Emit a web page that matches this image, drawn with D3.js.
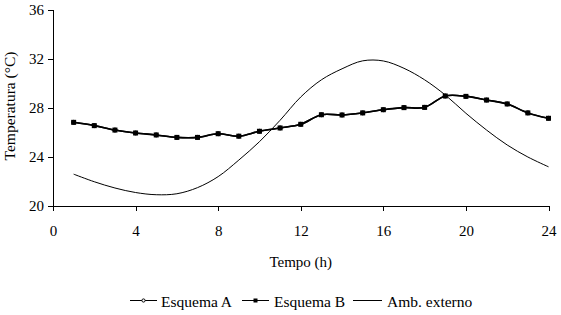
<!DOCTYPE html>
<html lang="en">
<head>
<meta charset="utf-8">
<title>Temperatura</title>
<script src="https://d3js.org/d3.v7.min.js"></script>
<style>
body { margin: 0; background: #fff; }
text { font-family: "Liberation Serif", "Times New Roman", serif; fill: #000; }
.axis path, .axis line { stroke: #000; shape-rendering: crispEdges; }
</style>
</head>
<body>
<div id="container"></div>
<script>
var hours = d3.range(1, 25);
var esquemaA = [26.83, 26.56, 26.2, 25.96, 25.8, 25.6, 25.6, 25.9, 25.7, 26.1, 26.37, 26.67,
                27.45, 27.43, 27.6, 27.86, 28.03, 28.05, 28.98, 28.95, 28.65, 28.33, 27.6, 27.16];
var esquemaB = [26.83, 26.56, 26.2, 25.96, 25.8, 25.6, 25.6, 25.9, 25.7, 26.1, 26.37, 26.67,
                27.45, 27.43, 27.6, 27.86, 28.03, 28.05, 28.98, 28.95, 28.65, 28.33, 27.6, 27.16];
var ambExterno = [22.6, 21.98, 21.47, 21.1, 20.92, 21.0, 21.5, 22.4, 23.75, 25.25, 27.0, 28.9,
                  30.3, 31.2, 31.85, 31.84, 31.24, 30.3, 29.06, 27.57, 26.2, 24.98, 24.0, 23.2];
var xTicks = [0, 4, 8, 12, 16, 20, 24];
var yTicks = [20, 24, 28, 32, 36];

var w = 561, h = 315;
var svg = d3.select("#container").append("svg").attr("width", w).attr("height", h);

var x = d3.scaleLinear().domain([0, 24]).range([53, 548.5]);
var y = d3.scaleLinear().domain([20, 36]).range([206, 10]);

// axes
svg.append("g").attr("class", "axis").attr("transform", "translate(0,206)")
  .call(d3.axisBottom(x).tickValues(xTicks).tickSize(5).tickPadding(14))
  .selectAll("text").style("font-size", "15px").style("font-family", "Liberation Serif");
svg.append("g").attr("class", "axis").attr("transform", "translate(53,0)")
  .call(d3.axisLeft(y).tickValues(yTicks).tickSize(5).tickPadding(4))
  .selectAll("text").style("font-size", "15px").style("font-family", "Liberation Serif");

svg.append("text").attr("x", x(12)).attr("y", 267).attr("text-anchor", "middle")
  .style("font-size", "15px").text("Tempo (h)");
svg.append("text").attr("transform", "translate(15,106) rotate(-90)")
  .attr("text-anchor", "middle").style("font-size", "15.5px").text("Temperatura (°C)");

var line = d3.line().curve(d3.curveCatmullRom.alpha(0.5));

function pts(vals) { return hours.map(function(hh, i) { return [x(hh), y(vals[i])]; }); }

// Esquema A (hidden under B)
svg.append("path").attr("d", line(pts(esquemaA))).attr("fill", "none").attr("stroke", "#000").attr("stroke-width", 1.5);
svg.selectAll(".ptA").data(pts(esquemaA)).enter().append("circle")
  .attr("cx", function(d) { return d[0]; }).attr("cy", function(d) { return d[1]; })
  .attr("r", 2).attr("fill", "#fff").attr("stroke", "#000");

// Amb. externo
svg.append("path").attr("d", line(pts(ambExterno))).attr("fill", "none").attr("stroke", "#000").attr("stroke-width", 1);

// Esquema B
svg.append("path").attr("d", line(pts(esquemaB))).attr("fill", "none").attr("stroke", "#000").attr("stroke-width", 1.6);
svg.selectAll(".ptB").data(pts(esquemaB)).enter().append("rect")
  .attr("x", function(d) { return d[0] - 2.5; }).attr("y", function(d) { return d[1] - 2.5; })
  .attr("width", 5).attr("height", 5).attr("fill", "#000");

// legend
var legend = [
  { name: "Esquema A", x0: 130, x1: 157, tx: 161, marker: "circle" },
  { name: "Esquema B", x0: 242, x1: 269, tx: 274, marker: "rect" },
  { name: "Amb. externo", x0: 353, x1: 382, tx: 387, marker: null }
];
var ly = 300.5;
legend.forEach(function(l) {
  svg.append("line").attr("x1", l.x0).attr("x2", l.x1).attr("y1", ly).attr("y2", ly)
    .attr("stroke", "#000").attr("stroke-width", 1);
  var cx = (l.x0 + l.x1) / 2;
  if (l.marker === "circle") {
    svg.append("circle").attr("cx", cx).attr("cy", ly).attr("r", 1.6).attr("fill", "#fff").attr("stroke", "#000");
  } else if (l.marker === "rect") {
    svg.append("rect").attr("x", cx - 2).attr("y", ly - 2).attr("width", 4).attr("height", 4).attr("fill", "#000");
  }
  svg.append("text").attr("x", l.tx).attr("y", 306.5).style("font-size", "15.5px").text(l.name);
});
</script>
</body>
</html>
